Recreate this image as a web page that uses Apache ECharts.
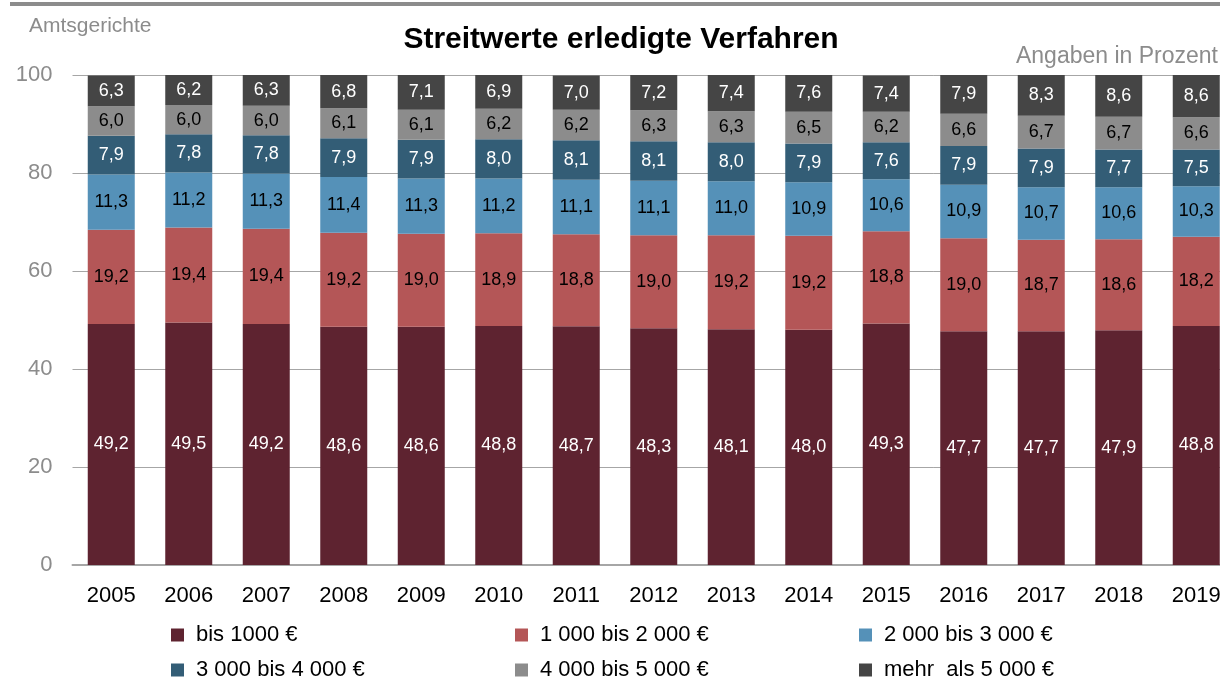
<!DOCTYPE html>
<html>
<head>
<meta charset="utf-8">
<script src="https://cdn.jsdelivr.net/npm/echarts@6/dist/echarts.min.js"></script>
<style>
  html, body { margin: 0; padding: 0; background: #fff; }
  #chart { width: 1220px; height: 680px; }
</style>
</head>
<body>
<div id="chart"></div>
<script>
// Streitwerte erledigter Verfahren an Amtsgerichten, Anteile in Prozent
const years = ['2005','2006','2007','2008','2009','2010','2011','2012','2013','2014','2015','2016','2017','2018','2019'];
const seriesNames = ['bis 1000 €', '1 000 bis 2 000 €', '2 000 bis 3 000 €', '3 000 bis 4 000 €', '4 000 bis 5 000 €', 'mehr  als 5 000 €'];
const bis1000   = [49.2, 49.5, 49.2, 48.6, 48.6, 48.8, 48.7, 48.3, 48.1, 48.0, 49.3, 47.7, 47.7, 47.9, 48.8];
const bis2000   = [19.2, 19.4, 19.4, 19.2, 19.0, 18.9, 18.8, 19.0, 19.2, 19.2, 18.8, 19.0, 18.7, 18.6, 18.2];
const bis3000   = [11.3, 11.2, 11.3, 11.4, 11.3, 11.2, 11.1, 11.1, 11.0, 10.9, 10.6, 10.9, 10.7, 10.6, 10.3];
const bis4000   = [7.9, 7.8, 7.8, 7.9, 7.9, 8.0, 8.1, 8.1, 8.0, 7.9, 7.6, 7.9, 7.9, 7.7, 7.5];
const bis5000   = [6.0, 6.0, 6.0, 6.1, 6.1, 6.2, 6.2, 6.3, 6.3, 6.5, 6.2, 6.6, 6.7, 6.7, 6.6];
const ueber5000 = [6.3, 6.2, 6.3, 6.8, 7.1, 6.9, 7.0, 7.2, 7.4, 7.6, 7.4, 7.9, 8.3, 8.6, 8.6];
const yTicks = [0, 20, 40, 60, 80, 100];

const values = [bis1000, bis2000, bis3000, bis4000, bis5000, ueber5000];
const colors = ['#5E2330', '#B45657', '#5591B8', '#335D76', '#8C8C8C', '#454545'];
const labelColors = ['#fff', '#000', '#000', '#fff', '#000', '#fff'];
const FONT = '"Liberation Sans", Arial, sans-serif';

const series = seriesNames.map((name, i) => ({
  name: name,
  type: 'bar',
  stack: 'total',
  barWidth: 47,
  data: values[i],
  itemStyle: { color: colors[i] },
  label: {
    show: true,
    position: 'inside',
    color: labelColors[i],
    fontFamily: FONT,
    fontSize: 18,
    formatter: p => p.value.toFixed(1).replace('.', ',')
  },
  emphasis: { disabled: true }
}));

// legend: three columns, two rows
const legendSlots = [
  { name: seriesNames[0], left: 171, top: 624 },
  { name: seriesNames[3], left: 171, top: 659 },
  { name: seriesNames[1], left: 515, top: 624 },
  { name: seriesNames[4], left: 515, top: 659 },
  { name: seriesNames[2], left: 859, top: 624 },
  { name: seriesNames[5], left: 859, top: 659 }
];
const legends = legendSlots.map(s => ({
  data: [s.name],
  left: s.left,
  top: s.top,
  padding: 0,
  itemWidth: 13,
  itemHeight: 13,
  icon: 'rect',
  selectedMode: false,
  textStyle: { fontFamily: FONT, fontSize: 22, lineHeight: 22, color: '#000', padding: [0, 0, 0, 7] }
}));

const chart = echarts.init(document.getElementById('chart'), null, { renderer: 'canvas' });
chart.setOption({
  animation: false,
  backgroundColor: '#fff',
  title: [
    {
      text: 'Streitwerte erledigte Verfahren',
      left: 621, top: 25, textAlign: 'center', padding: 0,
      textStyle: { fontFamily: FONT, fontSize: 30, fontWeight: 'bold', color: '#000' }
    },
    {
      text: 'Amtsgerichte',
      left: 29, top: 16, padding: 0,
      textStyle: { fontFamily: FONT, fontSize: 21, fontWeight: 'normal', color: '#8C8C8C' }
    },
    {
      text: 'Angaben in Prozent',
      right: 2, top: 45, padding: 0,
      textStyle: { fontFamily: FONT, fontSize: 23, fontWeight: 'normal', color: '#8C8C8C' }
    }
  ],
  graphic: [
    { type: 'rect', shape: { x: 10, y: 2, width: 1210, height: 4 }, style: { fill: '#8C8C8C' } }
  ],
  legend: legends,
  grid: { left: 72.5, top: 75, width: 1162.5, height: 490, containLabel: false, outerBoundsMode: 'none' },
  xAxis: {
    type: 'category',
    data: years,
    axisLine: { lineStyle: { color: '#A6A6A6', width: 2 } },
    axisTick: { show: false },
    axisLabel: { fontFamily: FONT, fontSize: 22, color: '#000', margin: 20 }
  },
  yAxis: {
    type: 'value',
    min: yTicks[0],
    max: yTicks[yTicks.length - 1],
    interval: 20,
    axisLine: { show: false },
    axisTick: { show: false },
    splitLine: { lineStyle: { color: '#A6A6A6', width: 1 } },
    axisLabel: { fontFamily: FONT, fontSize: 22, color: '#8C8C8C', margin: 20 }
  },
  series: series
});
</script>
</body>
</html>
